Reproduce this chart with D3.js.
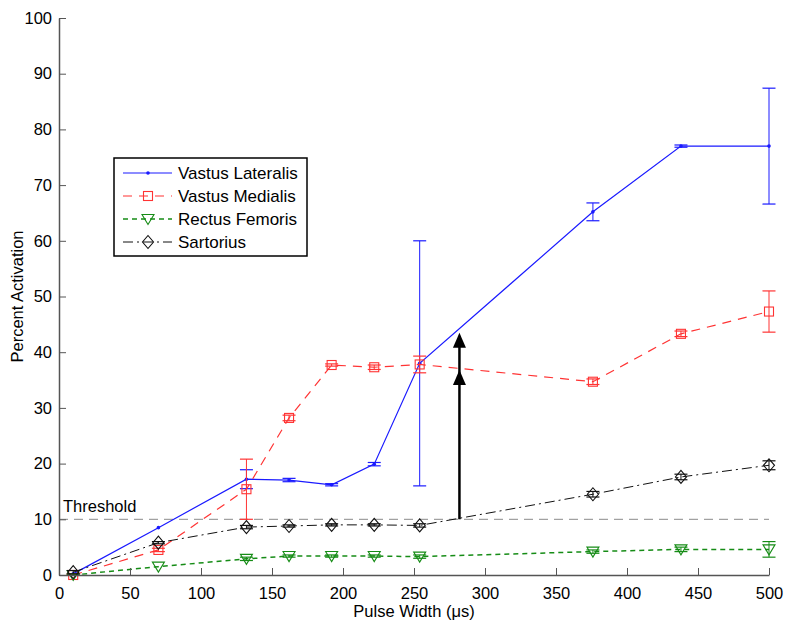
<!DOCTYPE html>
<html>
<head>
<meta charset="utf-8">
<script src="https://cdn.jsdelivr.net/npm/d3@7"></script>
<style>
  body { margin: 0; background: #fff; }
  svg { display: block; font-family: "Liberation Sans", Arial, Helvetica, sans-serif; }
</style>
</head>
<body>
<svg id="chart" width="795" height="629"></svg>
<script>
// ---- data ----
const pulseWidths = [10, 70, 132, 162, 192, 222, 254, 376, 438, 500];
const seriesNames = ["Vastus Lateralis", "Vastus Medialis", "Rectus Femoris", "Sartorius"];
const vastusLateralis    = [0.2, 8.5, 17.2, 17.05, 16.2, 19.9, 38.0, 65.2, 77.0, 77.0];
const vastusLateralisErr = [0, 0, 1.7, 0.3, 0.2, 0.3, 22.0, 1.6, 0.2, 10.4];
const vastusMedialis     = [0, 4.5, 15.4, 28.2, 37.7, 37.3, 37.8, 34.7, 43.3, 47.3];
const vastusMedialisErr  = [0.2, 0.3, 5.4, 0.5, 0.2, 0.4, 1.5, 0.5, 0.5, 3.7];
const rectusFemoris      = [0, 1.5, 2.9, 3.4, 3.4, 3.4, 3.3, 4.2, 4.6, 4.6];
const rectusFemorisErr   = [0.2, 0, 0.3, 0.2, 0.2, 0.2, 0.3, 0.3, 0.4, 1.4];
const sartorius          = [0.5, 5.8, 8.6, 8.8, 9.0, 9.0, 8.9, 14.5, 17.6, 19.7];
const sartoriusErr       = [0.3, 0.2, 0.3, 0.2, 0.2, 0.2, 0.3, 0.5, 0.5, 0.8];
const xTicks = [0, 50, 100, 150, 200, 250, 300, 350, 400, 450, 500];
const yTicks = [0, 10, 20, 30, 40, 50, 60, 70, 80, 90, 100];
const thresholdValue = 10;
const thresholdLabel = "Threshold";
const arrowX = 282;
const arrowFrom = 10;
const arrowHeads = [43.5, 36.8];
const xLabel = "Pulse Width (\u03bcs)";
const yLabel = "Percent Activation";

// ---- layout ----
const svg = d3.select("#chart");
const margin = { left: 59, right: 26, top: 18, bottom: 54 };
const W = 795, H = 629;
const x = d3.scaleLinear().domain([0, 500]).range([margin.left, W - margin.right]);
const y = d3.scaleLinear().domain([0, 100]).range([H - margin.bottom, margin.top]);

const styles = [
  { color: "#1a1aff", dash: null, marker: "dot", width: 1.2 },
  { color: "#ff3333", dash: "9,7", marker: "square", width: 1.2 },
  { color: "#168c16", dash: "5,4", marker: "triangle", width: 1.5 },
  { color: "#111111", dash: "10,4,2,4", marker: "diamond", width: 1.0 }
];
const values = [vastusLateralis, vastusMedialis, rectusFemoris, sartorius];
const errors = [vastusLateralisErr, vastusMedialisErr, rectusFemorisErr, sartoriusErr];

// threshold
svg.append("line")
  .attr("x1", x(0)).attr("x2", x(500))
  .attr("y1", y(thresholdValue)).attr("y2", y(thresholdValue))
  .attr("stroke", "#8a8a8a").attr("stroke-width", 1)
  .attr("stroke-dasharray", "9,6");
svg.append("text")
  .attr("x", x(0) + 4).attr("y", y(thresholdValue) - 7)
  .attr("font-size", 16.5).attr("fill", "#000")
  .text(thresholdLabel);

function drawMarker(g, type, cx, cy, color) {
  if (type === "dot") {
    g.append("circle").attr("cx", cx).attr("cy", cy).attr("r", 1.8).attr("fill", color);
  } else if (type === "square") {
    g.append("rect").attr("x", cx - 4.5).attr("y", cy - 4.5).attr("width", 9).attr("height", 9)
      .attr("fill", "none").attr("stroke", color).attr("stroke-width", 1.1);
  } else if (type === "triangle") {
    g.append("path").attr("d", `M${cx - 6},${cy - 4.5}L${cx + 6},${cy - 4.5}L${cx},${cy + 5.5}Z`)
      .attr("fill", "none").attr("stroke", color).attr("stroke-width", 1.1);
  } else if (type === "diamond") {
    g.append("path").attr("d", `M${cx},${cy - 6.5}L${cx + 5.5},${cy}L${cx},${cy + 6.5}L${cx - 5.5},${cy}Z`)
      .attr("fill", "none").attr("stroke", color).attr("stroke-width", 1.1);
  }
}

// series
const line = d3.line().x(d => x(d[0])).y(d => y(d[1]));
values.forEach((vals, si) => {
  const st = styles[si];
  const g = svg.append("g");
  const pts = pulseWidths.map((p, i) => [p, vals[i]]);
  g.append("path").datum(pts).attr("d", line)
    .attr("fill", "none").attr("stroke", st.color).attr("stroke-width", st.width)
    .attr("stroke-dasharray", st.dash);
  // error bars
  pulseWidths.forEach((p, i) => {
    const e = errors[si][i];
    if (e <= 0) return;
    const cx = x(p), top = y(vals[i] + e), bot = y(Math.max(0, vals[i] - e));
    g.append("line").attr("x1", cx).attr("x2", cx).attr("y1", top).attr("y2", bot)
      .attr("stroke", st.color).attr("stroke-width", 1);
    [top, bot].forEach(yy => g.append("line")
      .attr("x1", cx - 6.5).attr("x2", cx + 6.5).attr("y1", yy).attr("y2", yy)
      .attr("stroke", st.color).attr("stroke-width", 1.2));
  });
  pulseWidths.forEach((p, i) => drawMarker(g, st.marker, x(p), y(vals[i]), st.color));
});

// arrow
const ag = svg.append("g");
ag.append("line").attr("x1", x(arrowX)).attr("x2", x(arrowX))
  .attr("y1", y(arrowFrom)).attr("y2", y(arrowHeads[0]) + 4)
  .attr("stroke", "#000").attr("stroke-width", 2.5);
arrowHeads.forEach(v => {
  const cx = x(arrowX), ty = y(v);
  ag.append("path").attr("d", `M${cx},${ty}L${cx + 6.5},${ty + 15}L${cx - 6.5},${ty + 15}Z`).attr("fill", "#000");
});

// axes
const axisColor = "#555";
const xAxis = d3.axisBottom(x).tickValues(xTicks).tickSizeInner(-7).tickSizeOuter(0).tickPadding(14);
const xg = svg.append("g").attr("transform", `translate(0,${y(0)})`).call(xAxis);
const yAxis = d3.axisLeft(y).tickValues(yTicks).tickSizeInner(-7).tickSizeOuter(0).tickPadding(14);
const yg = svg.append("g").attr("transform", `translate(${x(0)},0)`).call(yAxis);
[xg, yg].forEach(g => {
  g.select(".domain").attr("stroke", axisColor).attr("stroke-width", 1.5);
  g.selectAll(".tick line").attr("stroke", axisColor).attr("stroke-width", 1);
  g.selectAll(".tick text").attr("font-size", 16.5).attr("fill", "#000")
    .attr("font-family", "'Liberation Sans', Arial, sans-serif");
});
xg.selectAll(".tick text").attr("dy", "0.6em");
yg.selectAll(".tick text").attr("x", -7);

svg.append("text").attr("x", (x(0) + x(500)) / 2).attr("y", 617)
  .attr("text-anchor", "middle").attr("font-size", 16.5).text(xLabel);
svg.append("text").attr("transform", `translate(23,${(y(0) + y(100)) / 2}) rotate(-90)`)
  .attr("text-anchor", "middle").attr("font-size", 16.5).text(yLabel);

// legend
const lg = svg.append("g");
lg.append("rect").attr("x", 114).attr("y", 158).attr("width", 193).attr("height", 98)
  .attr("fill", "#fff").attr("stroke", "#000").attr("stroke-width", 1.5);
seriesNames.forEach((name, i) => {
  const st = styles[i];
  const cy = 173 + i * 23;
  lg.append("line").attr("x1", 123).attr("x2", 172).attr("y1", cy).attr("y2", cy)
    .attr("stroke", st.color).attr("stroke-width", st.width)
    .attr("stroke-dasharray", st.dash);
  drawMarker(lg, st.marker, 148, cy, st.color);
  lg.append("text").attr("x", 178).attr("y", cy + 6).attr("font-size", 17).text(name);
});
</script>
</body>
</html>
